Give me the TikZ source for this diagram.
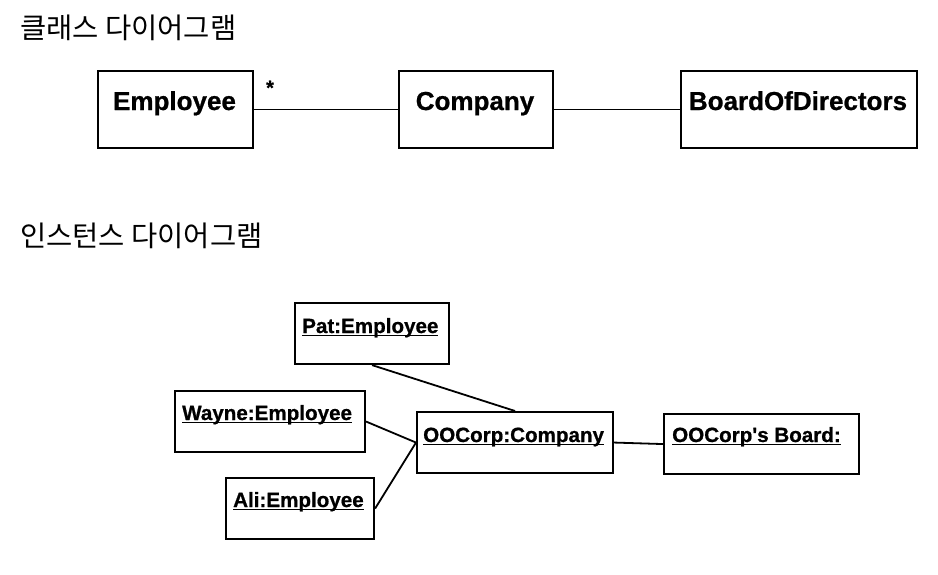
\documentclass[tikz,border=0pt]{standalone}
\usepackage{fontspec}
\setmainfont{Liberation Sans}[BoldFont={Liberation Sans Bold}]
\newfontfamily\bfsans{Liberation Sans Bold}[FakeBold=0.8]
\newfontfamily\krfont{Noto Sans CJK KR}
\newcommand\objname[1]{\setbox0\hbox{#1}\rlap{\rule[-3.2pt]{\wd0}{1.6pt}}\box0}
\begin{document}
\begin{tikzpicture}[x=1pt,y=-1pt,
  box/.style={draw, line width=2.1pt, inner sep=0pt, anchor=north west},
  cls/.style={font=\bfsans\fontsize{26}{30}\selectfont, inner sep=0pt, anchor=base},
  obj/.style={font=\bfsans\fontsize{20.6}{24}\selectfont, inner sep=0pt, anchor=base west},
  conn/.style={line width=1.8pt},
  ttl/.style={font=\krfont\fontsize{28.5}{32}\selectfont, inner sep=0pt, anchor=base west}]
\useasboundingbox (0,0) rectangle (938,574);
% titles
\node[ttl] (t1) at (20,38) {클래스 다이어그램};
\node[ttl] (t2) at (20,246) {인스턴스 다이어그램};
% class diagram
\node[box, minimum width=155pt, minimum height=77pt] (emp) at (97,70) {};
\node[box, minimum width=154pt, minimum height=77pt] (comp) at (398,70) {};
\node[box, minimum width=236pt, minimum height=77pt] (bod) at (680,70) {};
\node[cls] (empL) at (174.5,110) {Employee};
\node[cls] (compL) at (475,110) {Company};
\node[cls] (bodL) at (798,110) {BoardOfDirectors};
\node[font=\bfsans\fontsize{20}{24}\selectfont, inner sep=0pt, anchor=base] (star) at (270,94.5) {*};
\draw[conn] (emp.east) -- (comp.west);
\draw[conn] (comp.east) -- (bod.west);
% instance diagram
\node[box, minimum width=154pt, minimum height=61pt] (pat) at (294,302) {};
\node[box, minimum width=190pt, minimum height=61pt] (wayne) at (174,390) {};
\node[box, minimum width=196pt, minimum height=61pt] (oo) at (416,411) {};
\node[box, minimum width=148pt, minimum height=61pt] (ali) at (225,477) {};
\node[box, minimum width=195pt, minimum height=60pt] (board) at (663,413) {};
\node[obj] (patL) at (302,333) {\objname{Pat:Employee}};
\node[obj] (wayneL) at (182,420) {\objname{Wayne:Employee}};
\node[obj] (ooL) at (423,442) {\objname{OOCorp:Company}};
\node[obj] (aliL) at (233,507) {\objname{Ali:Employee}};
\node[obj] (boardL) at (672,442) {\objname{OOCorp\textquotesingle s Board:}};
\draw[conn] (pat.south) -- (oo.north);
\draw[conn] (wayne.east) -- (oo.west);
\draw[conn] (ali.east) -- (oo.west);
\draw[conn] (oo.east) -- (board.west);
\end{tikzpicture}
\end{document}
